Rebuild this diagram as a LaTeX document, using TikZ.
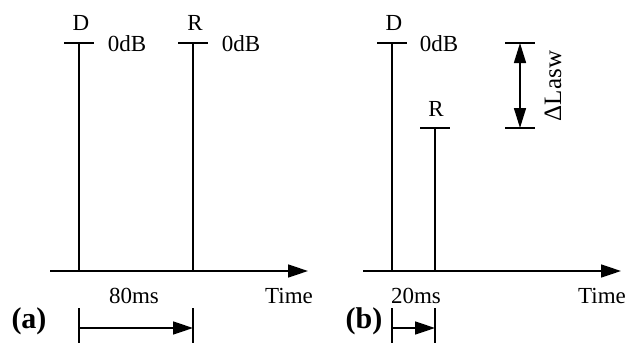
\documentclass[tikz,border=0pt]{standalone}
\usepackage{fontspec}
\setmainfont{Liberation Serif}
\usetikzlibrary{arrows.meta}

\begin{document}
\begin{tikzpicture}[x=1pt, y=-1pt, line width=1.6pt,
        lbl/.style={font=\fontsize{23}{26}\selectfont, inner sep=0pt, anchor=base},
        panel/.style={font=\fontsize{30}{32}\selectfont\bfseries, inner sep=0pt, anchor=base},
        tip/.style={-{Triangle[length=20pt,width=13pt]}},
        both/.style={{Triangle[length=20pt,width=12pt]}-{Triangle[length=20pt,width=12pt]}}]
        \useasboundingbox (0,0) rectangle (629,343);
        \pgfmathsetmacro{\axisY}{271}
        \pgfmathsetmacro{\tickW}{15}
        \pgfmathsetmacro{\spanY}{328}

        % panel (a)
        \coordinate (aO) at (50,\axisY);
        \coordinate (aE) at (308,\axisY);
        \coordinate (aDb) at (79,\axisY);
        \coordinate (aDt) at (79,43);
        \coordinate (aRb) at (193,\axisY);
        \coordinate (aRt) at (193,43);
        \draw[tip] (aO) -- (aE);
        \draw (aDb) -- (aDt);
        \draw (aRb) -- (aRt);
        \draw ([xshift=-\tickW]aDt) -- ([xshift=\tickW]aDt);
        \draw ([xshift=-\tickW]aRt) -- ([xshift=\tickW]aRt);
        \node[lbl] (aD) at (81,30) {D};
        \node[lbl] (aR) at (195,30) {R};
        \node[lbl] (aDdB) at (127,51) {0dB};
        \node[lbl] (aRdB) at (241,51) {0dB};
        \node[lbl] (aMs) at (134,303) {80ms};
        \node[lbl] (aTime) at (289,303) {Time};
        \node[panel] (aLab) at (29,328) {(a)};
        \coordinate (aS1) at (79,\spanY);
        \coordinate (aS2) at (193,\spanY);
        \draw (79,308) -- (79,343);
        \draw (193,308) -- (193,343);
        \draw[tip] (aS1) -- (aS2);

        % panel (b)
        \coordinate (bO) at (363,\axisY);
        \coordinate (bE) at (621,\axisY);
        \coordinate (bDb) at (392,\axisY);
        \coordinate (bDt) at (392,43);
        \coordinate (bRb) at (435,\axisY);
        \coordinate (bRt) at (435,128);
        \draw[tip] (bO) -- (bE);
        \draw (bDb) -- (bDt);
        \draw (bRb) -- (bRt);
        \draw ([xshift=-\tickW]bDt) -- ([xshift=\tickW]bDt);
        \draw ([xshift=-\tickW]bRt) -- ([xshift=\tickW]bRt);
        \node[lbl] (bD) at (394,30) {D};
        \node[lbl] (bR) at (436,116) {R};
        \node[lbl] (bDdB) at (439,51) {0dB};
        \node[lbl] (bMs) at (416,303) {20ms};
        \node[lbl] (bTime) at (602,303) {Time};
        \node[panel] (bLab) at (364,328) {(b)};
        \coordinate (bS1) at (392,\spanY);
        \coordinate (bS2) at (435,\spanY);
        \draw (392,308) -- (392,343);
        \draw (435,308) -- (435,343);
        \draw[tip] (bS1) -- (bS2);

        % level difference
        \coordinate (bLt) at (520,43);
        \coordinate (bLb) at (520,128);
        \draw ([xshift=-\tickW]bLt) -- ([xshift=\tickW]bLt);
        \draw ([xshift=-\tickW]bLb) -- ([xshift=\tickW]bLb);
        \draw[both] (bLt) -- (bLb);
        \node[lbl, rotate=90, font=\fontsize{25}{28}\selectfont] (bLasw) at (561,86) {ΔLasw};
\end{tikzpicture}
\end{document}
